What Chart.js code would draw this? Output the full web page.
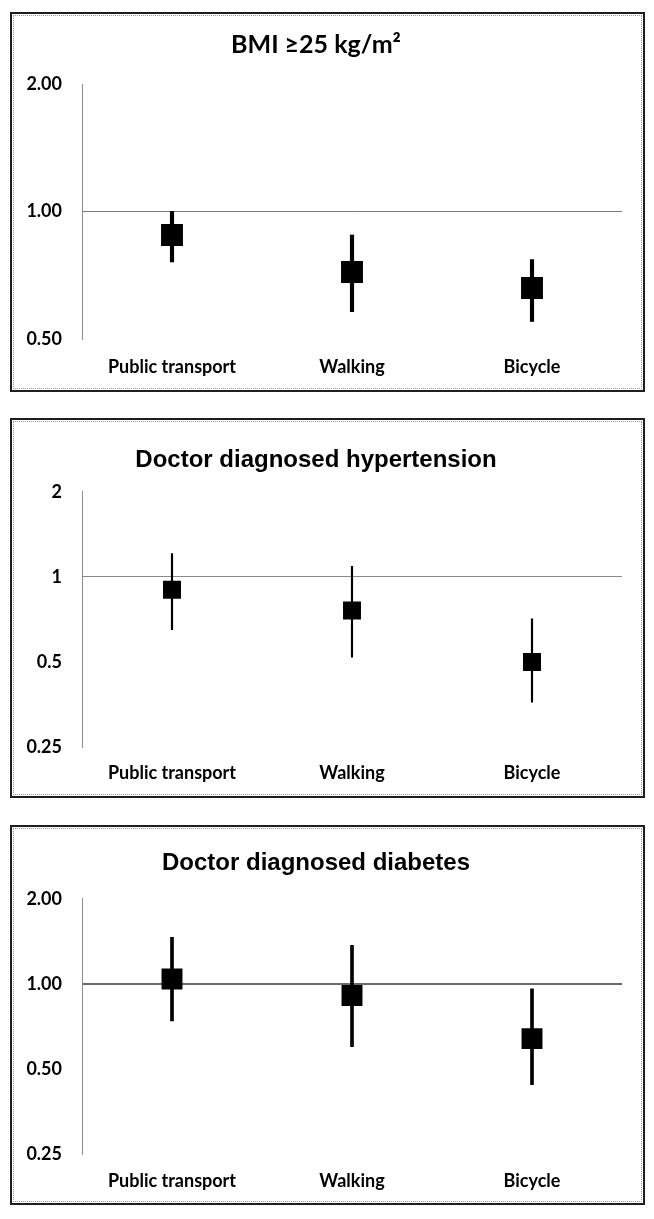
<!DOCTYPE html>
<html>
<head>
<meta charset="utf-8">
<script src="https://cdn.jsdelivr.net/npm/chart.js@4.4.0/dist/chart.umd.min.js"></script>
<style>
  body { margin: 0; background: #fff; width: 654px; height: 1219px; position: relative; overflow: hidden; }
  .panel { position: absolute; left: 10px; width: 635px; height: 380px; box-sizing: border-box; border: 2px solid #1e1e1e; }
  .panel::before { content: ''; position: absolute; left: 1px; top: 1px; right: 1px; bottom: 1px; border: 1px dotted #9a9a9a; }
  .panel canvas { position: absolute; left: -2px; top: -2px; }
</style>
</head>
<body>
<div class="panel" style="top:12px"><canvas id="bmi" width="635" height="380"></canvas></div>
<div class="panel" style="top:418px"><canvas id="htn" width="635" height="380"></canvas></div>
<div class="panel" style="top:825px"><canvas id="diab" width="635" height="380"></canvas></div>

<script>
// DATOS
const categories = ['Public transport', 'Walking', 'Bicycle'];

// BMI >= 25
const bmiOr = [0.88, 0.72, 0.66];
const bmiLow = [0.76, 0.58, 0.55];
const bmiHigh = [1.00, 0.88, 0.77];
const bmiTicks = [0.5, 1, 2];
const bmiTickLabels = ['0.50', '1.00', '2.00'];

// hypertension
const htnOr = [0.90, 0.76, 0.50];
const htnLow = [0.65, 0.52, 0.36];
const htnHigh = [1.21, 1.09, 0.71];
const htnTicks = [0.25, 0.5, 1, 2];
const htnTickLabels = ['0.25', '0.5', '1', '2'];

// diabetes
const diabOr = [1.04, 0.91, 0.64];
const diabLow = [0.74, 0.60, 0.44];
const diabHigh = [1.46, 1.37, 0.96];
const diabTicks = [0.25, 0.5, 1, 2];
const diabTickLabels = ['0.25', '0.50', '1.00', '2.00'];

const labelFont = { family: 'Lato', weight: 'bold', size: 18 };

// CREAR GRAFICO
function crearGrafico(id, cfg) {
    const canvas = document.getElementById(id);
    return new Chart(canvas, {
        data: {
            labels: categories,
            datasets: [{
                type: 'line',
                data: cfg.or,
                showLine: false,
                pointStyle: 'rect',
                pointRadius: cfg.radius,
                pointHoverRadius: cfg.radius,
                backgroundColor: '#000',
                borderColor: '#000',
                borderWidth: 0,
                order: 0
            }, {
                type: 'bar',
                data: cfg.low.map((v, i) => [v, cfg.high[i]]),
                backgroundColor: '#000',
                barThickness: cfg.whisker,
                order: 1
            }]
        },
        options: {
            responsive: false,
            animation: false,
            layout: { padding: { left: 0, right: 23, top: 0, bottom: 0 } },
            plugins: {
                legend: { display: false },
                tooltip: { enabled: false },
                title: {
                    display: true,
                    text: cfg.title,
                    color: '#000',
                    font: cfg.titleFont,
                    padding: cfg.titlePad
                }
            },
            scales: {
                x: {
                    offset: true,
                    grid: { display: false, drawTicks: false },
                    border: { display: false },
                    ticks: { font: labelFont, color: '#000', padding: cfg.xPad },
                    afterFit: (s) => { s.height = cfg.xHeight; }
                },
                y: {
                    type: 'logarithmic',
                    min: cfg.ticks[0],
                    max: cfg.ticks[cfg.ticks.length - 1],
                    afterBuildTicks: (s) => { s.ticks = cfg.ticks.map(v => ({ value: v })); },
                    ticks: {
                        font: labelFont,
                        color: '#000',
                        padding: 20,
                        callback: (v, i) => cfg.tickLabels[i]
                    },
                    grid: {
                        drawTicks: false,
                        color: (c) => (c.tick && c.tick.value === 1) ? cfg.gridColor : 'rgba(0,0,0,0)',
                        lineWidth: cfg.gridWidth
                    },
                    border: { display: true, color: '#8c8c8c', width: 1 },
                    afterFit: (s) => { s.width = 72; }
                }
            }
        }
    });
}

crearGrafico('bmi', {
    title: 'BMI \u226525 kg/m\u00b2',
    titleFont: { family: 'Lato', weight: 'bold', size: 25, lineHeight: 1.2 },
    titlePad: { top: 18, bottom: 24 },
    or: bmiOr, low: bmiLow, high: bmiHigh,
    ticks: bmiTicks, tickLabels: bmiTickLabels,
    radius: 15.5, whisker: 3.5,
    gridColor: '#7a7a7a', gridWidth: 1,
    xHeight: 53, xPad: 17
});

crearGrafico('htn', {
    title: 'Doctor diagnosed hypertension',
    titleFont: { family: 'Liberation Sans', weight: 'bold', size: 24, lineHeight: 1.2 },
    titlePad: { top: 28, bottom: 17 },
    or: htnOr, low: htnLow, high: htnHigh,
    ticks: htnTicks, tickLabels: htnTickLabels,
    radius: 12.7, whisker: 1.5,
    gridColor: '#8a8a8a', gridWidth: 1,
    xHeight: 51, xPad: 15
});

crearGrafico('diab', {
    title: 'Doctor diagnosed diabetes',
    titleFont: { family: 'Liberation Sans', weight: 'bold', size: 24, lineHeight: 1.2 },
    titlePad: { top: 24, bottom: 21 },
    or: diabOr, low: diabLow, high: diabHigh,
    ticks: diabTicks, tickLabels: diabTickLabels,
    radius: 14.8, whisker: 3,
    gridColor: '#6a6a6a', gridWidth: 2,
    xHeight: 51, xPad: 16
});
</script>
</body>
</html>
